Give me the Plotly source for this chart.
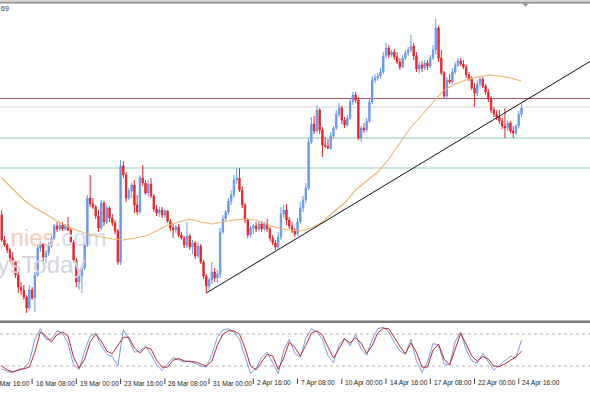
import numpy as np
import plotly.graph_objects as go

# ---------------- data (4-hour bars, visible window) ----------------
# prices are stored as "points": price = 1.0400 + pts * 0.0002
open_pts = [185,160,155,150,142,138,125,113,110,103,92,110,102,125,152,156,143,147,154,162,
            174,171,175,171,174,170,158,140,118,124,132,155,202,196,193,184,172,197,178,192,
            182,177,169,138,234,225,202,209,215,195,188,222,217,207,216,204,191,187,190,185,
            189,179,172,170,173,165,162,155,164,153,157,144,154,138,124,114,120,128,122,126,
            168,181,188,199,205,220,222,210,195,180,165,172,174,171,176,171,176,171,162,157,
            153,163,186,190,180,174,169,166,178,192,200,212,258,276,269,290,270,255,254,252,
            264,272,286,292,280,275,282,298,305,300,262,272,270,279,298,320,322,324,328,344,
            352,345,348,343,338,333,342,347,350,354,344,331,335,332,337,334,342,350,372,342,
            327,304,320,318,328,335,339,336,333,325,321,312,307,316,321,314,308,301,290,286,
            283,279,274,272,277,269,267,274,286]
high_pts = [190,164,157,152,148,140,128,118,115,105,115,113,128,155,159,157,150,158,164,176,
            178,177,178,176,183,172,160,142,128,134,158,205,225,202,195,190,200,199,195,194,
            186,180,171,240,239,228,212,217,220,205,225,235,220,220,222,206,195,193,193,191,
            190,181,176,175,176,168,164,178,166,160,159,158,156,140,126,122,138,132,130,172,
            185,190,202,210,225,232,232,214,197,182,174,176,178,179,179,178,181,173,165,160,
            168,193,195,196,183,178,172,182,198,204,217,262,283,284,295,292,273,263,261,268,
            274,290,297,294,283,285,302,308,308,303,274,277,282,302,324,326,327,332,348,357,
            355,350,351,348,342,345,350,353,365,357,348,338,339,340,340,345,355,381,374,350,
            329,323,326,332,338,342,342,340,335,328,324,317,320,323,323,316,311,304,293,290,
            290,282,292,280,279,274,276,289,296]
low_pts = [158,153,147,138,135,122,107,105,100,87,90,100,88,123,148,138,137,144,152,160,
           168,169,169,169,169,156,138,113,110,107,130,153,193,191,181,168,170,174,176,178,
           174,166,135,135,222,198,200,202,187,185,186,214,205,203,202,188,184,183,182,182,
           177,169,162,167,163,160,152,152,150,146,141,142,136,121,107,110,116,118,117,122,
           166,178,185,195,202,216,208,192,177,162,162,166,168,169,168,169,168,159,155,150,
           151,160,182,175,171,167,163,164,176,188,197,210,256,266,267,266,243,252,251,250,
           261,270,283,276,272,273,280,295,297,260,258,267,268,277,296,317,319,321,326,342,
           342,343,340,336,330,332,340,344,348,340,328,326,328,330,330,332,340,345,338,325,
           302,300,316,316,326,333,334,331,322,319,310,293,304,313,312,305,298,287,283,280,
           276,271,262,269,267,262,265,272,283]
close_pts = [160,155,150,142,138,125,113,110,103,92,110,102,125,152,156,143,147,154,162,174,
             171,175,171,174,170,158,140,118,124,132,155,202,196,193,184,172,197,178,192,182,
             177,169,138,234,225,202,209,215,195,188,222,217,207,216,204,191,187,190,185,189,
             179,172,170,173,165,162,155,164,153,157,144,154,138,124,114,120,128,122,126,168,
             181,188,199,205,220,222,210,195,180,165,172,174,171,176,171,176,171,162,157,153,
             163,186,190,180,174,169,166,178,192,200,212,258,276,269,290,270,255,254,252,264,
             272,286,292,280,275,282,298,305,300,262,272,270,279,298,320,322,324,328,344,352,
             345,348,343,338,333,342,347,350,354,344,331,335,332,337,334,342,350,372,342,327,
             304,320,318,328,335,339,336,333,325,321,312,307,316,321,314,308,301,290,286,283,
             279,274,272,277,269,267,274,286,292]

# moving average, read every 4th bar
ma_pts = [222,211,200,192,186,179,173,169,165,163,161,160,162,164,169,175,178,181,178,176,
          178,180,181,180,175,172,170,169,172,178,188,197,210,219,228,241,257,273,285,298,
          310,316,320,323,325,324,322,319]

# stochastic oscillator, read every 2nd bar
stoch_main = [15,10,8,14,16,28,70,90,70,70,86,82,62,22,14,48,76,82,58,42,
              38,20,88,70,46,48,58,42,22,12,24,36,32,27,30,25,20,18,42,74,
              88,90,84,70,36,6,16,36,46,26,6,50,70,44,36,72,90,84,70,40,
              26,60,72,58,80,52,40,70,90,93,84,64,48,42,70,30,8,28,62,60,
              24,22,66,84,50,30,26,44,28,12,22,30,38,36,68]
stoch_signal = [20,13,9,12,14,18,46,84,76,65,79,84,76,37,16,33,65,80,67,48,
                43,58,74,74,54,44,55,52,31,18,18,31,34,30,28,28,24,20,29,59,
                80,86,86,80,54,20,13,28,42,39,14,35,65,55,39,59,82,86,78,56,
                35,52,71,63,73,63,44,58,82,91,90,74,57,43,63,46,18,18,50,61,
                33,22,51,81,61,39,29,38,33,20,19,24,31,37,48]
stoch_levels = [80, 20]

# horizontal levels and trend line anchors (points)
level_pts = [301.5, 293, 262, 232]
level_colors = ["#A65B6A", "#D6D6D6", "#86CBB0", "#96C7C4"]
trend_bars = [74, 188]
trend_pts = [107, 297.2]

tick_bars = [-5, 11, 27, 43, 59, 75, 91, 107, 123, 139, 155, 171, 187]
tick_text = ["11 Mar 16:00", "16 Mar 08:00", "19 Mar 00:00", "23 Mar 16:00", "26 Mar 08:00",
             "31 Mar 00:00", "2 Apr 16:00", "7 Apr 08:00", "10 Apr 00:00", "14 Apr 16:00",
             "17 Apr 08:00", "22 Apr 00:00", "24 Apr 16:00"]

# ---------------- helpers ----------------
def price(p):
    return 1.0400 + np.asarray(p, dtype=float) * 0.0002

W, H = 590, 393
def py(pix):  # pixel row -> paper y
    return 1 - pix / H

N = len(close_pts)
bars = np.arange(N)
XR = [-0.615, 212.77]

BULL = "#6C98E6"
BEAR = "#E2282E"

fig = go.Figure()

# watermark (beneath candles)
fig.add_trace(go.Scatter(
    x=[3.2, -1.6], y=price([160, 133]), mode="text",
    text=["<span style='color:#F5CBBB'>nies</span><span style='color:#D9DAE2'>.com</span>",
          "<span style='color:#D2D4DC'>ysToday</span>"],
    textposition="middle right",
    textfont=dict(family="Liberation Sans, Arial, sans-serif", size=24),
    hoverinfo="skip", showlegend=False, xaxis="x", yaxis="y"))

fig.add_trace(go.Candlestick(
    x=bars, open=price(open_pts), high=price(high_pts), low=price(low_pts), close=price(close_pts),
    increasing=dict(line=dict(color=BULL, width=1), fillcolor=BULL),
    decreasing=dict(line=dict(color=BEAR, width=1), fillcolor=BEAR),
    whiskerwidth=0, hoverinfo="skip", showlegend=False, xaxis="x", yaxis="y"))

fig.add_trace(go.Scatter(
    x=np.arange(0, N, 4), y=price(ma_pts), mode="lines",
    line=dict(color="#EAB56A", width=1.1), hoverinfo="skip", showlegend=False,
    xaxis="x", yaxis="y"))

sx = np.arange(0, N, 2)
fig.add_trace(go.Scatter(x=sx, y=stoch_main, mode="lines",
                         line=dict(color="#7C9BDA", width=1),
                         hoverinfo="skip", showlegend=False, xaxis="x2", yaxis="y2"))
fig.add_trace(go.Scatter(x=sx, y=stoch_signal, mode="lines",
                         line=dict(color="#B8283A", width=1),
                         hoverinfo="skip", showlegend=False, xaxis="x2", yaxis="y2"))

shapes = []
# top frame
shapes.append(dict(type="rect", xref="paper", yref="paper", x0=0, x1=1, y0=py(2), y1=1,
                   fillcolor="#D3D3D3", line=dict(width=0)))
shapes.append(dict(type="rect", xref="paper", yref="paper", x0=0, x1=1, y0=py(3.5), y1=py(2),
                   fillcolor="#8E8E8E", line=dict(width=0)))
# chart shift marker
shapes.append(dict(type="path", xref="paper", yref="paper",
                   path=f"M {522.5/W},{py(3.5)} L {528.5/W},{py(3.5)} L {525.5/W},{py(6.8)} Z",
                   fillcolor="#8A8A8A", line=dict(width=0)))
# panel separator
shapes.append(dict(type="rect", xref="paper", yref="paper", x0=0, x1=1, y0=py(323), y1=py(320.6),
                   fillcolor="#7A7A7A", line=dict(width=0)))
# horizontal levels
for lv, col in zip(level_pts, level_colors):
    shapes.append(dict(type="line", xref="paper", yref="y", x0=0, x1=1,
                       y0=float(price(lv)), y1=float(price(lv)),
                       line=dict(color=col, width=1), layer="below"))
# trend line (ray to the right edge)
slope = (trend_pts[1] - trend_pts[0]) / (trend_bars[1] - trend_bars[0])
end_pts = trend_pts[0] + slope * (XR[1] - trend_bars[0])
shapes.append(dict(type="line", xref="x", yref="y", x0=trend_bars[0], x1=XR[1],
                   y0=float(price(trend_pts[0])), y1=float(price(end_pts)),
                   line=dict(color="#111111", width=1)))
# stochastic levels
for lv in stoch_levels:
    shapes.append(dict(type="line", xref="paper", yref="y2", x0=0, x1=1, y0=lv, y1=lv,
                       line=dict(color="#B4B4B4", width=1, dash="3px,3px"), layer="below"))

annotations = []
for b, t in zip(tick_bars, tick_text):
    frac = (b - XR[0]) / (XR[1] - XR[0])
    shapes.append(dict(type="line", xref="paper", yref="paper", x0=frac, x1=frac,
                       y0=py(384), y1=py(378.5), line=dict(color="#444444", width=1)))
    annotations.append(dict(xref="paper", yref="paper", x=frac, y=py(383), text=t,
                            showarrow=False, xanchor="left", yanchor="middle", xshift=1.5,
                            font=dict(family="Liberation Sans, Arial, sans-serif", size=6.6,
                                      color="#222222")))
annotations.append(dict(xref="paper", yref="paper", x=0, y=py(8.5), text="69",
                        showarrow=False, xanchor="left", yanchor="middle", xshift=-1,
                        font=dict(family="Liberation Sans, Arial, sans-serif", size=7,
                                  color="#333333")))

axis_common = dict(showgrid=False, zeroline=False, showline=False, showticklabels=False,
                   ticks="", fixedrange=True)
fig.update_layout(
    width=W, height=H, margin=dict(l=0, r=0, t=0, b=0),
    paper_bgcolor="white", plot_bgcolor="white",
    showlegend=False, boxgap=0.3,
    xaxis=dict(domain=[0, 1], range=XR, anchor="y", rangeslider=dict(visible=False), **axis_common),
    xaxis2=dict(domain=[0, 1], range=XR, anchor="y2", matches="x", **axis_common),
    yaxis=dict(domain=[py(320), py(4)], range=[float(price(80)), float(price(396))], **axis_common),
    yaxis2=dict(domain=[py(378), py(322)], range=[-2.4, 102.6], **axis_common),
    shapes=shapes, annotations=annotations,
)

fig.write_html("out.html")
